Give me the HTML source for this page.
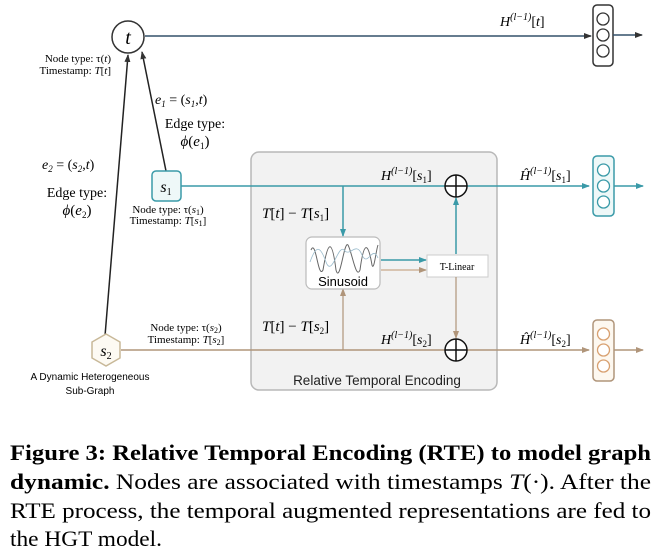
<!DOCTYPE html>
<html><head><meta charset="utf-8"><style>
html,body{margin:0;padding:0;background:#fff;}
svg{display:block;}
.sf{font-family:"Liberation Serif",serif;}
.ss{font-family:"Liberation Sans","DejaVu Sans",sans-serif;}
</style></head><body>
<svg width="667" height="554" viewBox="0 0 667 554" xmlns="http://www.w3.org/2000/svg">
<defs>
<marker id="ak" markerWidth="8" markerHeight="8" refX="7" refY="4" orient="auto" markerUnits="userSpaceOnUse"><path d="M0,1 L8,4 L0,7z" fill="#333"/></marker>
<marker id="at" markerWidth="8" markerHeight="8" refX="7" refY="4" orient="auto" markerUnits="userSpaceOnUse"><path d="M0,1 L8,4 L0,7z" fill="#3a9aa8"/></marker>
<marker id="ao" markerWidth="8" markerHeight="8" refX="7" refY="4" orient="auto" markerUnits="userSpaceOnUse"><path d="M0,1 L8,4 L0,7z" fill="#b0957a"/></marker>
</defs>
<!-- RTE box -->
<rect x="251" y="152" width="246" height="238" rx="8" fill="#f2f2f2" stroke="#b8b8b8" stroke-width="1.5"/>
<text x="377" y="385" class="ss" font-size="13.5" text-anchor="middle" fill="#222">Relative Temporal Encoding</text>

<!-- t node -->
<circle cx="128" cy="37" r="16" fill="#fff" stroke="#333" stroke-width="1.5"/>
<text x="128" y="44" class="sf" font-size="20" font-style="italic" text-anchor="middle">t</text>
<line x1="145" y1="36" x2="591" y2="36" stroke="#34506a" stroke-width="1.5" marker-end="url(#ak)"/>
<text x="500" y="26" class="sf" font-size="14" font-style="italic">H<tspan font-size="10" dy="-6">(l−1)</tspan><tspan dy="6" font-style="normal">[</tspan>t<tspan font-style="normal">]</tspan></text>
<rect x="593" y="5" width="20" height="61" rx="4" fill="#fff" stroke="#333" stroke-width="1.5"/>
<circle cx="603" cy="19" r="6" fill="#fff" stroke="#333" stroke-width="1.3"/>
<circle cx="603" cy="35" r="6" fill="#fff" stroke="#333" stroke-width="1.3"/>
<circle cx="603" cy="51" r="6" fill="#fff" stroke="#333" stroke-width="1.3"/>
<line x1="613" y1="35" x2="642" y2="35" stroke="#34506a" stroke-width="1.5" marker-end="url(#ak)"/>

<text x="111" y="62" class="sf" font-size="11" text-anchor="end">Node type: τ(<tspan font-style="italic">t</tspan>)</text>
<text x="111" y="74" class="sf" font-size="11" text-anchor="end">Timestamp: <tspan font-style="italic">T</tspan>[<tspan font-style="italic">t</tspan>]</text>

<!-- edges -->
<line x1="166" y1="171" x2="142" y2="52" stroke="#222" stroke-width="1.5" marker-end="url(#ak)"/>
<line x1="105" y1="336" x2="128" y2="55" stroke="#222" stroke-width="1.5" marker-end="url(#ak)"/>
<text x="155" y="104" class="sf" font-size="14" font-style="italic">e<tspan font-size="9" dy="3">1</tspan><tspan dy="-3" font-style="normal"> = (</tspan>s<tspan font-size="9" dy="3">1</tspan><tspan dy="-3" font-style="normal">,</tspan>t<tspan font-style="normal">)</tspan></text>
<text x="195" y="128" class="sf" font-size="14" text-anchor="middle">Edge type:</text>
<text x="195" y="146" class="sf" font-size="15" text-anchor="middle"><tspan font-style="italic">ϕ</tspan>(<tspan font-style="italic">e</tspan><tspan font-size="9" dy="3">1</tspan><tspan dy="-3">)</tspan></text>
<text x="42" y="169" class="sf" font-size="14" font-style="italic">e<tspan font-size="9" dy="3">2</tspan><tspan dy="-3" font-style="normal"> = (</tspan>s<tspan font-size="9" dy="3">2</tspan><tspan dy="-3" font-style="normal">,</tspan>t<tspan font-style="normal">)</tspan></text>
<text x="77" y="197" class="sf" font-size="14" text-anchor="middle">Edge type:</text>
<text x="77" y="215" class="sf" font-size="15" text-anchor="middle"><tspan font-style="italic">ϕ</tspan>(<tspan font-style="italic">e</tspan><tspan font-size="9" dy="3">2</tspan><tspan dy="-3">)</tspan></text>

<!-- s1 -->
<line x1="181" y1="186" x2="589" y2="186" stroke="#3a9aa8" stroke-width="1.5" marker-end="url(#at)"/>
<rect x="152" y="171" width="29" height="30" rx="4" fill="#eef8f8" stroke="#3a9aa8" stroke-width="1.5"/>
<text x="166" y="192" class="sf" font-size="16" font-style="italic" text-anchor="middle">s<tspan font-size="10" dy="3" font-style="normal">1</tspan></text>
<text x="168" y="213" class="sf" font-size="11" text-anchor="middle">Node type: τ(<tspan font-style="italic">s</tspan><tspan font-size="8" dy="2">1</tspan><tspan dy="-2">)</tspan></text>
<text x="168" y="224" class="sf" font-size="11" text-anchor="middle">Timestamp: <tspan font-style="italic">T</tspan>[<tspan font-style="italic">s</tspan><tspan font-size="8" dy="2">1</tspan><tspan dy="-2">]</tspan></text>

<!-- s2 -->
<line x1="121" y1="350" x2="589" y2="350" stroke="#b0957a" stroke-width="1.5" marker-end="url(#ao)"/>
<polygon points="106,334 120,342 120,358 106,366 92,358 92,342" fill="#fdfaf3" stroke="#c8b898" stroke-width="1.5"/>
<text x="106" y="356" class="sf" font-size="16" font-style="italic" text-anchor="middle">s<tspan font-size="10" dy="3" font-style="normal">2</tspan></text>
<text x="186" y="331" class="sf" font-size="11" text-anchor="middle">Node type: τ(<tspan font-style="italic">s</tspan><tspan font-size="8" dy="2">2</tspan><tspan dy="-2">)</tspan></text>
<text x="186" y="343" class="sf" font-size="11" text-anchor="middle">Timestamp: <tspan font-style="italic">T</tspan>[<tspan font-style="italic">s</tspan><tspan font-size="8" dy="2">2</tspan><tspan dy="-2">]</tspan></text>
<text x="90" y="380" class="ss" font-size="10" text-anchor="middle">A Dynamic Heterogeneous</text>
<text x="90" y="394" class="ss" font-size="10" text-anchor="middle">Sub-Graph</text>

<!-- internal RTE -->
<text x="262" y="218" class="sf" font-size="15" font-style="italic">T<tspan font-style="normal">[</tspan>t<tspan font-style="normal">] − </tspan>T<tspan font-style="normal">[</tspan>s<tspan font-size="9" dy="3" font-style="normal">1</tspan><tspan dy="-3" font-style="normal">]</tspan></text>
<text x="262" y="331" class="sf" font-size="15" font-style="italic">T<tspan font-style="normal">[</tspan>t<tspan font-style="normal">] − </tspan>T<tspan font-style="normal">[</tspan>s<tspan font-size="9" dy="3" font-style="normal">2</tspan><tspan dy="-3" font-style="normal">]</tspan></text>
<line x1="343" y1="186" x2="343" y2="236" stroke="#3a9aa8" stroke-width="1.5" marker-end="url(#at)"/>
<line x1="343" y1="350" x2="343" y2="289" stroke="#b0957a" stroke-width="1.2" marker-end="url(#ao)"/>
<rect x="306" y="237" width="74" height="52" rx="6" fill="#fff" stroke="#bbb" stroke-width="1.2"/>
<path d="M311,250 C316,238 318,280 323,270 C328,240 332,238 336,270 C340,285 344,240 348,245 C352,252 356,280 360,270 C364,240 368,242 372,265 C374,272 376,250 378,245" fill="none" stroke="#666" stroke-width="1"/>
<path d="M310,262 C316,245 320,245 326,262 C332,278 338,244 344,250 C350,258 356,240 362,255 C368,268 372,244 378,258" fill="none" stroke="#9bc" stroke-width="0.8"/>
<text x="343" y="286" class="ss" font-size="13" text-anchor="middle">Sinusoid</text>
<line x1="381" y1="260" x2="426" y2="260" stroke="#3a9aa8" stroke-width="1.5" marker-end="url(#at)"/>
<line x1="381" y1="270" x2="426" y2="270" stroke="#c9a98a" stroke-width="1.2" marker-end="url(#ao)"/>
<rect x="427" y="255" width="61" height="22" fill="#fff" stroke="#ccc" stroke-width="1"/>
<text x="457" y="270" class="sf" font-size="10" text-anchor="middle">T-Linear</text>
<line x1="456" y1="254" x2="456" y2="198" stroke="#3a9aa8" stroke-width="1.5" marker-end="url(#at)"/>
<line x1="456" y1="277" x2="456" y2="338" stroke="#b0957a" stroke-width="1.2" marker-end="url(#ao)"/>
<circle cx="456" cy="186" r="11" fill="#fff" stroke="#111" stroke-width="1.5"/>
<path d="M445,186 H467 M456,175 V197" stroke="#111" stroke-width="1.5"/>
<circle cx="456" cy="350" r="11" fill="#fff" stroke="#111" stroke-width="1.5"/>
<path d="M445,350 H467 M456,339 V361" stroke="#111" stroke-width="1.5"/>
<text x="381" y="180" class="sf" font-size="14" font-style="italic">H<tspan font-size="10" dy="-6">(l−1)</tspan><tspan dy="6" font-style="normal">[</tspan>s<tspan font-size="9" dy="3" font-style="normal">1</tspan><tspan dy="-3" font-style="normal">]</tspan></text>
<text x="381" y="344" class="sf" font-size="14" font-style="italic">H<tspan font-size="10" dy="-6">(l−1)</tspan><tspan dy="6" font-style="normal">[</tspan>s<tspan font-size="9" dy="3" font-style="normal">2</tspan><tspan dy="-3" font-style="normal">]</tspan></text>
<text x="520" y="180" class="sf" font-size="14" font-style="italic">Ĥ<tspan font-size="10" dy="-6">(l−1)</tspan><tspan dy="6" font-style="normal">[</tspan>s<tspan font-size="9" dy="3" font-style="normal">1</tspan><tspan dy="-3" font-style="normal">]</tspan></text>
<text x="520" y="344" class="sf" font-size="14" font-style="italic">Ĥ<tspan font-size="10" dy="-6">(l−1)</tspan><tspan dy="6" font-style="normal">[</tspan>s<tspan font-size="9" dy="3" font-style="normal">2</tspan><tspan dy="-3" font-style="normal">]</tspan></text>

<!-- output boxes -->
<rect x="593" y="156" width="21" height="60" rx="4" fill="#eef8f8" stroke="#3a9aa8" stroke-width="1.5"/>
<circle cx="603.5" cy="170" r="6" fill="#fff" stroke="#3a9aa8" stroke-width="1.3"/>
<circle cx="603.5" cy="186" r="6" fill="#fff" stroke="#3a9aa8" stroke-width="1.3"/>
<circle cx="603.5" cy="202" r="6" fill="#fff" stroke="#3a9aa8" stroke-width="1.3"/>
<line x1="614" y1="186" x2="643" y2="186" stroke="#3a9aa8" stroke-width="1.5" marker-end="url(#at)"/>
<rect x="593" y="320" width="21" height="61" rx="4" fill="#fdf8f0" stroke="#b0957a" stroke-width="1.5"/>
<circle cx="603.5" cy="334" r="6" fill="#fff" stroke="#d8a070" stroke-width="1.3"/>
<circle cx="603.5" cy="350" r="6" fill="#fff" stroke="#d8a070" stroke-width="1.3"/>
<circle cx="603.5" cy="366" r="6" fill="#fff" stroke="#d8a070" stroke-width="1.3"/>
<line x1="614" y1="350" x2="643" y2="350" stroke="#b0957a" stroke-width="1.5" marker-end="url(#ao)"/>

<!-- caption -->
<text x="10" y="460" class="sf" font-size="22" font-weight="bold" textLength="641" lengthAdjust="spacingAndGlyphs">Figure 3: Relative Temporal Encoding (RTE) to model graph</text>
<text x="10" y="489" class="sf" font-size="22" textLength="641" lengthAdjust="spacingAndGlyphs"><tspan font-weight="bold">dynamic.</tspan> Nodes are associated with timestamps <tspan font-style="italic">T</tspan>(·). After the</text>
<text x="10" y="518" class="sf" font-size="22" textLength="641" lengthAdjust="spacingAndGlyphs">RTE process, the temporal augmented representations are fed to</text>
<text x="10" y="546" class="sf" font-size="22" textLength="152" lengthAdjust="spacingAndGlyphs">the HGT model.</text>
</svg>
</body></html>
